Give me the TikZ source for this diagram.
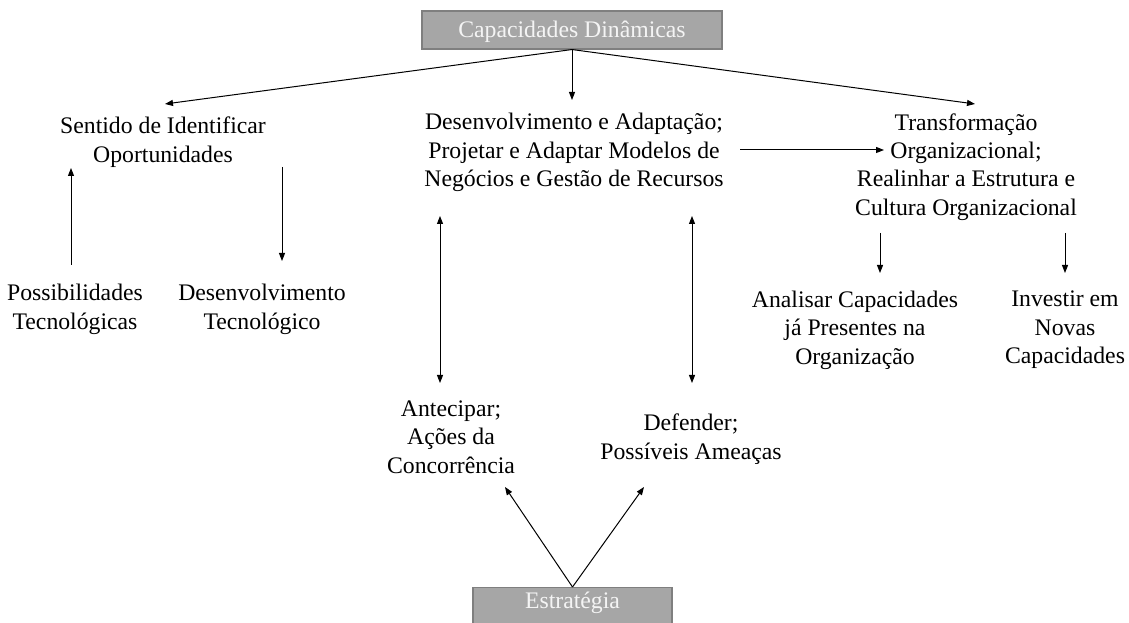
\documentclass[tikz,border=0pt]{standalone}
\usepackage{fontspec}
\setmainfont{Liberation Serif}
\usetikzlibrary{arrows.meta}
\definecolor{boxfill}{HTML}{A6A6A6}
\definecolor{boxline}{HTML}{7F7F7F}
\definecolor{boxtext}{HTML}{F4F4F4}
\begin{document}
\begin{tikzpicture}[x=0.75pt,y=-0.75pt,
  lbl/.style={align=center,inner sep=0pt,font=\fontsize{17.8}{21.3}\selectfont},
  graybox/.style={draw=boxline,fill=boxfill,text=boxtext,line width=0.8pt,inner sep=0pt,
     font=\fontsize{17.8}{21.3}\selectfont},
  arr/.style={line width=0.75pt,-{Triangle[length=6pt,width=4.5pt]}},
  darr/.style={line width=0.75pt,{Triangle[length=6pt,width=4.5pt]}-{Triangle[length=6pt,width=4.5pt]}}]
\useasboundingbox (0,0) rectangle (1129,623);
% boxes
\node[graybox,minimum width=225pt,minimum height=28.5pt,text height=14pt,text depth=3pt] (cap) at (572,30) {Capacidades Dinâmicas};
\node[graybox,anchor=north,minimum width=149.25pt,inner ysep=3pt,text height=13pt,text depth=30pt] (est) at (572.5,587) {Estratégia};
% labels
\node[lbl] (sent) at (163,142) {Sentido de Identificar\\Oportunidades};
\node[lbl] (poss) at (75,309.5) {Possibilidades\\Tecnológicas};
\node[lbl] (dtec) at (262,309.5) {Desenvolvimento\\Tecnológico};
\node[lbl] (dev) at (574,152.5) {Desenvolvimento e Adaptação;\\Projetar e Adaptar Modelos de\\Negócios e Gestão de Recursos};
\node[lbl] (trans) at (966,167) {Transformação\\Organizacional;\\Realinhar a Estrutura e\\Cultura Organizacional};
\node[lbl] (anal) at (855,330) {Analisar Capacidades\\já Presentes na\\Organização};
\node[lbl] (inv) at (1065,330) {Investir em\\Novas\\Capacidades};
\node[lbl] (ant) at (451,437) {Antecipar;\\Ações da\\Concorrência};
\node[lbl] (def) at (691,439) {Defender;\\Possíveis Ameaças};
% connector end points
\coordinate (sentIn) at (165,104);
\coordinate (devIn) at (572,100);
\coordinate (transIn) at (975,104);
\coordinate (possOut) at (71,265);
\coordinate (sentUp) at (71,168);
\coordinate (sentDown) at (282,167);
\coordinate (dtecIn) at (282,261);
\coordinate (devRight) at (740,150);
\coordinate (transLeft) at (884,150);
\coordinate (aTop) at (440,216);
\coordinate (aBot) at (440,383);
\coordinate (dTop) at (692,216);
\coordinate (dBot) at (692,383);
\coordinate (tL) at (880,233);
\coordinate (analIn) at (880,273);
\coordinate (tR) at (1065,233);
\coordinate (invIn) at (1065,273);
\coordinate (antIn) at (505,487);
\coordinate (defIn) at (644,487);
% connectors
\draw[arr] (cap.south) -- (sentIn);
\draw[arr] (cap.south) -- (devIn);
\draw[arr] (cap.south) -- (transIn);
\draw[arr] (possOut) -- (sentUp);
\draw[arr] (sentDown) -- (dtecIn);
\draw[arr] (devRight) -- (transLeft);
\draw[darr] (aTop) -- (aBot);
\draw[darr] (dTop) -- (dBot);
\draw[arr] (tL) -- (analIn);
\draw[arr] (tR) -- (invIn);
\draw[arr] (est.north) -- (antIn);
\draw[arr] (est.north) -- (defIn);
\end{tikzpicture}
\end{document}
